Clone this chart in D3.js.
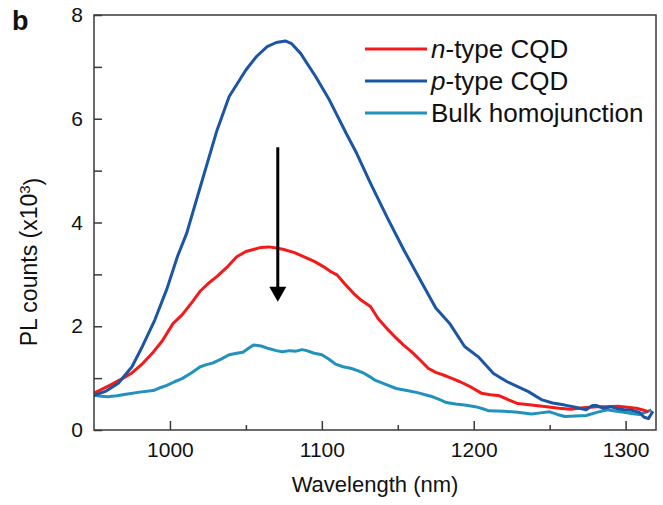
<!DOCTYPE html>
<html>
<head>
<meta charset="utf-8">
<script src="https://cdnjs.cloudflare.com/ajax/libs/d3/7.8.5/d3.min.js"></script>
<style>
  body { margin: 0; background: #fff; }
  svg text { font-family: Arial, "Liberation Sans", sans-serif; }
</style>
</head>
<body>
<svg id="chart" width="663" height="505"></svg>
<script>
// wavelength (nm) / PL counts (x10^3)
var pWave = [950, 958, 966, 975, 982, 990, 998, 1005, 1011, 1020, 1031, 1039, 1050, 1057, 1064, 1070, 1076, 1080, 1086, 1096, 1105, 1116, 1123, 1132, 1143, 1154, 1166, 1175, 1184, 1194, 1203, 1213, 1222, 1236, 1245, 1252, 1260, 1267, 1274, 1278, 1281, 1285, 1290, 1295, 1299, 1304, 1309, 1312, 1315, 1318];
var pCounts = [0.67, 0.75, 0.90, 1.22, 1.62, 2.12, 2.72, 3.35, 3.79, 4.69, 5.78, 6.43, 6.94, 7.20, 7.39, 7.47, 7.50, 7.45, 7.26, 6.81, 6.36, 5.72, 5.33, 4.76, 4.10, 3.47, 2.83, 2.35, 2.06, 1.61, 1.41, 1.09, 0.93, 0.74, 0.58, 0.52, 0.48, 0.44, 0.39, 0.47, 0.47, 0.42, 0.45, 0.41, 0.39, 0.38, 0.34, 0.25, 0.22, 0.36];

var nWave = [950, 961, 968, 975, 982, 989, 995, 1002, 1008, 1015, 1020, 1025, 1031, 1038, 1044, 1050, 1055, 1060, 1065, 1070, 1075, 1082, 1088, 1095, 1101, 1106, 1110, 1115, 1121, 1126, 1132, 1137, 1143, 1149, 1154, 1159, 1165, 1170, 1175, 1180, 1186, 1191, 1198, 1205, 1211, 1217, 1223, 1229, 1238, 1248, 1256, 1264, 1272, 1281, 1288, 1295, 1301, 1307, 1312, 1315];
var nCounts = [0.71, 0.87, 0.98, 1.10, 1.28, 1.50, 1.72, 2.05, 2.22, 2.48, 2.68, 2.82, 2.96, 3.15, 3.34, 3.44, 3.48, 3.52, 3.53, 3.51, 3.48, 3.42, 3.34, 3.25, 3.15, 3.05, 2.99, 2.82, 2.63, 2.50, 2.38, 2.15, 1.95, 1.77, 1.63, 1.51, 1.34, 1.19, 1.11, 1.06, 0.99, 0.93, 0.83, 0.71, 0.68, 0.66, 0.58, 0.51, 0.48, 0.45, 0.42, 0.40, 0.43, 0.45, 0.45, 0.46, 0.44, 0.42, 0.38, 0.35];

var bulkWave = [950, 955, 959, 965, 971, 980, 989, 994, 998, 1003, 1008, 1014, 1020, 1024, 1028, 1034, 1039, 1044, 1048, 1052, 1055, 1060, 1065, 1070, 1074, 1079, 1083, 1087, 1090, 1095, 1100, 1105, 1109, 1114, 1119, 1124, 1128, 1132, 1135, 1142, 1149, 1156, 1163, 1168, 1173, 1178, 1182, 1188, 1194, 1201, 1206, 1210, 1220, 1229, 1238, 1244, 1250, 1255, 1260, 1267, 1274, 1281, 1288, 1294, 1299, 1304, 1309, 1313, 1317];
var bulkCounts = [0.67, 0.65, 0.64, 0.66, 0.69, 0.73, 0.76, 0.82, 0.86, 0.93, 0.99, 1.10, 1.22, 1.26, 1.29, 1.37, 1.45, 1.48, 1.50, 1.58, 1.64, 1.62, 1.57, 1.53, 1.51, 1.53, 1.52, 1.55, 1.53, 1.48, 1.45, 1.36, 1.27, 1.22, 1.19, 1.14, 1.09, 1.02, 0.96, 0.88, 0.80, 0.76, 0.72, 0.68, 0.64, 0.58, 0.53, 0.50, 0.48, 0.45, 0.41, 0.37, 0.36, 0.34, 0.31, 0.33, 0.35, 0.30, 0.26, 0.27, 0.28, 0.34, 0.39, 0.36, 0.34, 0.32, 0.30, 0.34, 0.39];

var seriesNames = ["n-type CQD", "p-type CQD", "Bulk homojunction"];
var seriesColors = ["#f51a1a", "#1b56a5", "#2192bc"];

var xMajor = [1000, 1100, 1200, 1300];
var xMinor = [1050, 1150, 1250];
var yMajor = [0, 2, 4, 6, 8];
var yMinor = [1, 3, 5, 7];

// arrow drawn at ~1071 nm, from 5.45 down to 2.47
var arrowWave = 1071;
var arrowFrom = 5.45;
var arrowTo = 2.47;

var svg = d3.select("#chart");
var margin = {left: 94, top: 15, right: 7, bottom: 75};
var W = 663 - margin.left - margin.right;
var H = 505 - margin.top - margin.bottom;

var g = svg.append("g").attr("transform", "translate(" + margin.left + "," + margin.top + ")");

var x = d3.scaleLinear().domain([950, 1320]).range([0, W]);
var y = d3.scaleLinear().domain([0, 8]).range([H, 0]);

var axisColor = "#3a3a3a";

// x axis, ticks pointing inward
g.append("g").attr("transform", "translate(0," + H + ")")
    .call(d3.axisBottom(x).tickValues(xMajor).tickSize(-9).tickPadding(12).tickFormat(d3.format("d")));
g.append("g").attr("transform", "translate(0," + H + ")")
    .call(d3.axisBottom(x).tickValues(xMinor).tickSize(-5).tickFormat(""));

g.append("g")
    .call(d3.axisLeft(y).tickValues(yMajor).tickSize(-8).tickPadding(11));
g.append("g")
    .call(d3.axisLeft(y).tickValues(yMinor).tickSize(-8).tickFormat(""));

g.selectAll(".domain").remove();
g.selectAll(".tick line").attr("stroke", axisColor).attr("stroke-width", 1.5);
g.selectAll(".tick text").attr("fill", "#111").style("font-size", "21px");

var line = d3.line()
    .x(function(d) { return x(d[0]); })
    .y(function(d) { return y(d[1]); });

var allSeries = [
    d3.zip(nWave, nCounts),
    d3.zip(pWave, pCounts),
    d3.zip(bulkWave, bulkCounts)
];

var clip = svg.append("defs").append("clipPath").attr("id", "plotclip");
clip.append("rect").attr("width", W).attr("height", H);

// draw bulk first, then n, then p on top
[2, 0, 1].forEach(function(i) {
    g.append("path")
        .datum(allSeries[i])
        .attr("clip-path", "url(#plotclip)")
        .attr("fill", "none")
        .attr("stroke", seriesColors[i])
        .attr("stroke-width", 3)
        .attr("stroke-linejoin", "round")
        .attr("d", line);
});

// frame
g.append("rect")
    .attr("width", W).attr("height", H)
    .attr("fill", "none")
    .attr("stroke", axisColor)
    .attr("stroke-width", 1.5);

// arrow
var ax = x(arrowWave);
var headLen = 15, headW = 8.5;
g.append("line")
    .attr("x1", ax).attr("x2", ax)
    .attr("y1", y(arrowFrom)).attr("y2", y(arrowTo) - headLen + 1)
    .attr("stroke", "#000").attr("stroke-width", 3);
g.append("path")
    .attr("d", "M" + (ax - headW) + "," + (y(arrowTo) - headLen) + "L" + (ax + headW) + "," + (y(arrowTo) - headLen) + "L" + ax + "," + y(arrowTo) + "Z")
    .attr("fill", "#000");

// legend
var legend = g.append("g").attr("transform", "translate(" + (365 - margin.left) + "," + (49 - margin.top) + ")");
seriesNames.forEach(function(name, i) {
    var row = legend.append("g").attr("transform", "translate(0," + (i * 32) + ")");
    row.append("line").attr("x1", 0).attr("x2", 62).attr("y1", 0).attr("y2", 0)
        .attr("stroke", seriesColors[i]).attr("stroke-width", 3);
    var t = row.append("text").attr("x", 66).attr("dy", "0.36em")
        .style("font-size", "26px").attr("fill", "#111");
    if (i < 2) {
        var parts = name.split("-");
        t.append("tspan").style("font-style", "italic").text(parts[0]);
        t.append("tspan").text("-" + parts.slice(1).join("-"));
    } else {
        t.text(name);
    }
});

// axis titles
svg.append("text")
    .attr("x", margin.left + W / 2).attr("y", 492)
    .attr("text-anchor", "middle")
    .style("font-size", "22px").attr("fill", "#111")
    .text("Wavelength (nm)");

var yt = svg.append("text")
    .attr("transform", "translate(37,262) rotate(-90)")
    .attr("text-anchor", "middle")
    .style("font-size", "23px").attr("fill", "#111");
yt.append("tspan").text("PL counts (x10");
yt.append("tspan").attr("dy", "-0.45em").style("font-size", "15px").text("3");
yt.append("tspan").attr("dy", "0.45em").text(")");

// panel letter
svg.append("text")
    .attr("x", 12).attr("y", 30)
    .style("font-size", "27px").style("font-weight", "bold").attr("fill", "#111")
    .text("b");
</script>
</body>
</html>
